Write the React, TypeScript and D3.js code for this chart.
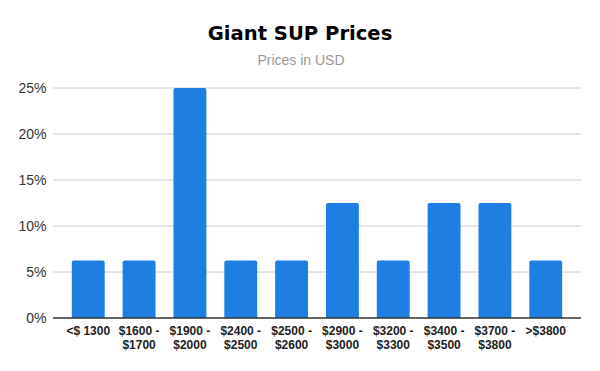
import React from "react";
import * as d3 from "d3";

const categories: string[][] = [
  ["<$ 1300"],
  ["$1600 -", "$1700"],
  ["$1900 -", "$2000"],
  ["$2400 -", "$2500"],
  ["$2500 -", "$2600"],
  ["$2900 -", "$3000"],
  ["$3200 -", "$3300"],
  ["$3400 -", "$3500"],
  ["$3700 -", "$3800"],
  [">$3800"],
];
const values: number[] = [6.25, 6.25, 25, 6.25, 6.25, 12.5, 6.25, 12.5, 12.5, 6.25];
const yTicks: number[] = [0, 5, 10, 15, 20, 25];
const title = "Giant SUP Prices";
const subtitle = "Prices in USD";

const W = 600;
const H = 371;
const left = 53;
const right = 581;
const top = 88;
const bottom = 318;

export default function App() {
  const x = d3
    .scaleBand<number>()
    .domain(d3.range(values.length))
    .range([left, right])
    .paddingInner(0.353)
    .paddingOuter(0.37);
  const y = d3.scaleLinear().domain([0, 25]).range([bottom, top]);
  const bw = x.bandwidth();
  const r = 2;

  const barPath = (i: number) => {
    const x0 = x(i)!;
    const y0 = y(values[i]);
    const x1 = x0 + bw;
    const y1 = y(0);
    return `M${x0},${y1}V${y0 + r}Q${x0},${y0} ${x0 + r},${y0}H${x1 - r}Q${x1},${y0} ${x1},${y0 + r}V${y1}Z`;
  };

  return (
    <div style={{ position: "fixed", left: 0, top: 0 }}>
      <svg width={W} height={H} style={{ display: "block", background: "#fff" }}>
        <rect width={W} height={H} fill="#fff" />
        <text
          x={300}
          y={40}
          textAnchor="middle"
          fontFamily="'DejaVu Sans', Verdana, sans-serif"
          fontWeight="bold"
          fontSize={19.6}
          fill="#000"
        >
          {title}
        </text>
        <text
          x={301}
          y={65}
          textAnchor="middle"
          fontFamily="'Liberation Sans', Arial, sans-serif"
          fontSize={14}
          fill="#999"
        >
          {subtitle}
        </text>
        {yTicks.map((t) => (
          <g key={t}>
            {t !== 0 && (
              <line x1={left} x2={right} y1={y(t)} y2={y(t)} stroke="#ccc" strokeWidth={1} />
            )}
            <text
              x={46.5}
              y={y(t) + 5}
              textAnchor="end"
              fontFamily="'Liberation Sans', Arial, sans-serif"
              fontSize={14}
              fill="#333"
            >
              {t}%
            </text>
          </g>
        ))}
        {values.map((v, i) => (
          <path key={i} d={barPath(i)} fill="#1f7ee1" />
        ))}
        <line x1={left} x2={right} y1={y(0)} y2={y(0)} stroke="#333" strokeWidth={1.3} />
        {categories.map((lines, i) => (
          <text
            key={i}
            x={x(i)! + bw / 2}
            textAnchor="middle"
            fontFamily="'Liberation Sans', Arial, sans-serif"
            fontWeight="bold"
            fontSize={12}
            fill="#222"
          >
            {lines.map((l, j) => (
              <tspan key={j} x={x(i)! + bw / 2} y={335 + j * 14}>
                {l}
              </tspan>
            ))}
          </text>
        ))}
      </svg>
    </div>
  );
}
